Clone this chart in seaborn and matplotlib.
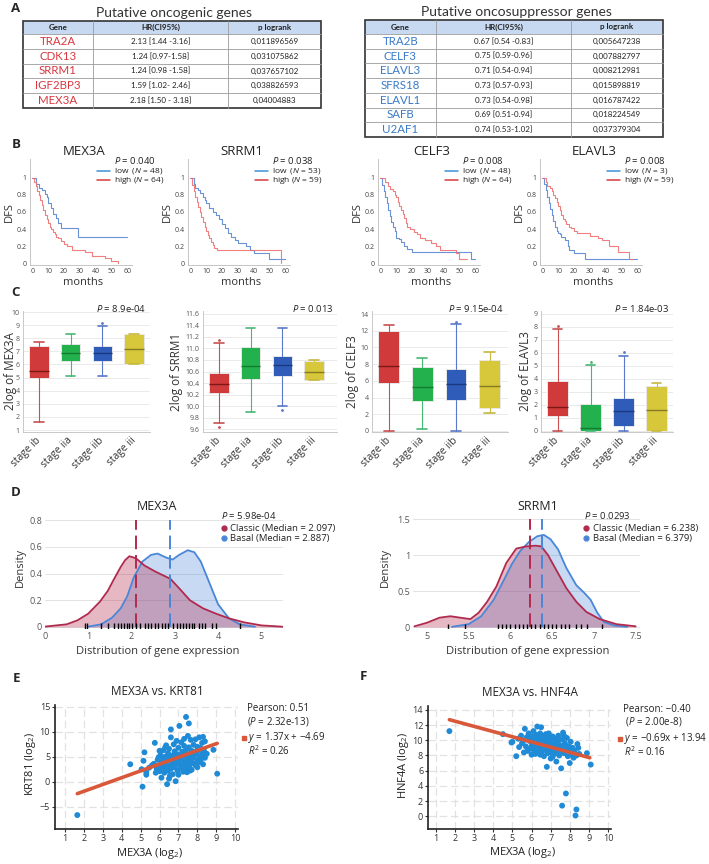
import matplotlib
matplotlib.use('Agg')
import matplotlib.pyplot as plt
import seaborn as sns
from matplotlib.patches import Rectangle

W, H = 709, 864

sns.set_theme(style='white')
plt.rcParams['font.family'] = ['Open Sans', 'DejaVu Sans']
plt.rcParams['mathtext.fontset'] = 'custom'
plt.rcParams['mathtext.it'] = 'Open Sans:italic'
plt.rcParams['mathtext.rm'] = 'Open Sans'

# ---------------- data: panel A tables ----------------
onco_genes = ['TRA2A', 'CDK13', 'SRRM1', 'IGF2BP3', 'MEX3A']
onco_hr = ['2.13 [1.44 -3.16]', '1.24 [0.97-1.58]', '1.24 [0.98 -1.58]', '1.59 [1.02- 2.46]', '2.18 [1.50 - 3.18]']
onco_p = ['0,011896569', '0,031075862', '0,037657102', '0,038826593', '0,04004883']
supp_genes = ['TRA2B', 'CELF3', 'ELAVL3', 'SFRS18', 'ELAVL1', 'SAFB', 'U2AF1']
supp_hr = ['0.67 [0.54 -0.83]', '0.75 [0.59-0.96]', '0.71 [0.54-0.94]', '0.73 [0.57-0.93]',
           '0.73 [0.54-0.98]', '0.69 [0.51-0.94]', '0.74 [0.53-1.02]']
supp_p = ['0,005647238', '0,007882797', '0,008212981', '0,015898819', '0,016787422', '0,018224549', '0,037379304']

# ---------------- data: panel B (Kaplan-Meier steps) ----------------
mex3a_low_t = [0, 2, 4, 6, 8, 9, 10, 12, 13, 15, 16, 18, 29, 60]
mex3a_low_s = [1, 0.93, 0.88, 0.86, 0.81, 0.77, 0.71, 0.65, 0.58, 0.53, 0.47, 0.41, 0.31, 0.31]
mex3a_high_t = [0, 1, 2, 3, 4, 5, 6, 7, 8, 9, 10, 11, 12, 13, 14, 15, 16, 18, 20, 22, 25, 33, 38, 46, 50, 54]
mex3a_high_s = [1, 0.95, 0.9, 0.85, 0.8, 0.74, 0.68, 0.62, 0.57, 0.52, 0.47, 0.43, 0.4, 0.37, 0.34, 0.31,
                0.29, 0.26, 0.23, 0.2, 0.16, 0.13, 0.09, 0.06, 0.03, 0.0]
srrm1_low_t = [0, 2, 3, 5, 6, 8, 9, 10, 12, 14, 16, 18, 20, 22, 24, 26, 28, 30, 35, 38, 40, 50, 60]
srrm1_low_s = [1, 0.93, 0.88, 0.86, 0.82, 0.78, 0.74, 0.7, 0.65, 0.6, 0.56, 0.52, 0.46, 0.41, 0.36,
               0.31, 0.27, 0.24, 0.2, 0.15, 0.12, 0.05, 0.05]
srrm1_high_t = [0, 1, 2, 3, 4, 5, 6, 7, 8, 9, 10, 11, 12, 13, 14, 15, 17, 57]
srrm1_high_s = [1, 0.92, 0.85, 0.78, 0.72, 0.66, 0.6, 0.54, 0.48, 0.43, 0.38, 0.33, 0.29, 0.25, 0.21,
                0.18, 0.15, 0.0]
celf3_low_t = [0, 1, 2, 3, 4, 5, 6, 7, 8, 9, 10, 12, 13, 15, 17, 20, 57, 60]
celf3_low_s = [1, 0.92, 0.85, 0.77, 0.7, 0.62, 0.55, 0.48, 0.43, 0.38, 0.3, 0.28, 0.25, 0.2, 0.17, 0.13, 0.05, 0.05]
celf3_high_t = [0, 3, 5, 6, 8, 9, 10, 11, 12, 13, 14, 15, 16, 17, 19, 21, 23, 25, 28, 32, 35, 38, 48, 50, 55]
celf3_high_s = [1, 0.95, 0.9, 0.87, 0.84, 0.8, 0.77, 0.72, 0.67, 0.62, 0.58, 0.53, 0.47, 0.43, 0.4,
                0.37, 0.34, 0.3, 0.27, 0.24, 0.2, 0.15, 0.12, 0.05, 0.05]
elavl3_low_t = [0, 1, 2, 3, 4, 5, 6, 7, 8, 9, 10, 11, 12, 14, 16, 17, 20, 27, 60]
elavl3_low_s = [1, 0.93, 0.86, 0.78, 0.7, 0.63, 0.56, 0.5, 0.43, 0.38, 0.36, 0.34, 0.31, 0.27, 0.2,
                0.15, 0.12, 0.05, 0.05]
elavl3_high_t = [0, 2, 3, 5, 6, 7, 8, 9, 10, 11, 12, 13, 14, 15, 17, 18, 20, 22, 30, 35, 38, 42, 48, 52, 55, 57]
elavl3_high_s = [1, 0.95, 0.9, 0.88, 0.85, 0.8, 0.76, 0.72, 0.67, 0.62, 0.57, 0.52, 0.49, 0.46, 0.43,
                 0.41, 0.38, 0.35, 0.32, 0.3, 0.27, 0.2, 0.13, 0.13, 0.05, 0.05]

# ---------------- data: panel C (box stats: low whisker, q1, median, q3, high whisker) ----------------
stages = ['stage ib', 'stage iia', 'stage iib', 'stage iii']
box_mex3a = [[1.6, 4.95, 5.5, 7.4, 7.75], [5.1, 6.3, 6.9, 7.55, 8.3], [5.1, 6.3, 6.85, 7.4, 8.95], [6.0, 6.0, 7.15, 8.3, 8.3]]
out_mex3a = [[], [], [9.2], []]
box_srrm1 = [[9.71, 10.22, 10.38, 10.58, 11.1], [9.9, 10.47, 10.7, 11.02, 11.36], [10.0, 10.52, 10.71, 10.87, 11.36], [10.45, 10.45, 10.6, 10.78, 10.8]]
out_srrm1 = [[11.15, 9.63], [], [9.93], []]
box_celf3 = [[0.0, 5.8, 7.8, 12.0, 12.7], [0.2, 3.6, 5.3, 7.6, 8.7], [0.0, 3.7, 5.65, 7.4, 12.8], [2.1, 2.8, 5.4, 8.5, 9.4]]
out_celf3 = [[], [], [13.1], []]
box_elavl3 = [[0.0, 1.15, 1.85, 3.85, 7.85], [0.0, 0.0, 0.25, 2.05, 5.05], [0.0, 0.35, 1.5, 2.5, 5.8], [0.0, 0.0, 1.6, 3.45, 3.7]]
out_elavl3 = [[8.1], [5.3], [6.05], []]

# ---------------- data: panel D (density curves) ----------------
mex3a_classic_x = [0.0, 0.5, 0.75, 1.0, 1.27, 1.45, 1.58, 1.75, 1.85, 1.95, 2.1, 2.3, 2.55, 2.9, 3.1, 3.35, 3.65, 3.95, 4.25, 4.6, 5.0, 5.5]
mex3a_classic_d = [0.003, 0.02, 0.05, 0.1, 0.19, 0.27, 0.35, 0.45, 0.5, 0.53, 0.515, 0.46, 0.415, 0.36, 0.29, 0.2, 0.14, 0.1, 0.065, 0.035, 0.012, 0.002]
mex3a_basal_x = [1.0, 1.3, 1.55, 1.75, 1.9, 2.05, 2.25, 2.45, 2.6, 2.8, 2.95, 3.1, 3.3, 3.45, 3.6, 3.8, 4.0, 4.25, 4.5, 4.85]
mex3a_basal_d = [0.003, 0.02, 0.07, 0.14, 0.23, 0.37, 0.49, 0.54, 0.55, 0.52, 0.505, 0.54, 0.575, 0.56, 0.49, 0.33, 0.17, 0.065, 0.02, 0.002]
mex3a_rug = [0.93, 0.98, 1.3, 1.45, 1.6, 1.68, 1.75, 1.82, 1.9, 1.95, 2.02, 2.1, 2.2, 2.3, 2.38, 2.45, 2.55, 2.62,
             2.7, 2.78, 2.85, 2.95, 3.05, 3.12, 3.2, 3.25, 3.32, 3.4, 3.45, 3.55, 3.62, 3.7, 3.85, 3.95, 4.5]
srrm1_classic_x = [4.85, 5.0, 5.15, 5.28, 5.4, 5.52, 5.62, 5.72, 5.83, 5.95, 6.07, 6.19, 6.3, 6.37, 6.45, 6.55, 6.67, 6.79, 6.91, 7.07, 7.27, 7.5]
srrm1_classic_d = [0.01, 0.06, 0.13, 0.15, 0.13, 0.11, 0.2, 0.35, 0.56, 0.89, 1.09, 1.12, 1.13, 1.12, 1.0, 0.79, 0.54, 0.35, 0.21, 0.11, 0.04, 0.01]
srrm1_basal_x = [5.3, 5.5, 5.65, 5.8, 5.92, 6.02, 6.12, 6.22, 6.32, 6.4, 6.48, 6.57, 6.67, 6.79, 6.88, 6.96, 7.04, 7.12, 7.25, 7.4]
srrm1_basal_d = [0.003, 0.04, 0.15, 0.38, 0.65, 0.88, 1.06, 1.18, 1.26, 1.28, 1.22, 1.08, 0.82, 0.58, 0.48, 0.38, 0.2, 0.07, 0.02, 0.003]
srrm1_rug = [5.25, 5.45, 5.85, 5.9, 5.95, 6.0, 6.05, 6.1, 6.15, 6.2, 6.25, 6.3, 6.35, 6.4, 6.45, 6.5, 6.55,
             6.6, 6.65, 6.7, 6.78, 6.85, 6.92, 7.1]

# ---------------- data: panels E / F (scatter) ----------------
e_mex3a = [1.65, 4.45, 5.1, 5.15, 5.2, 5.05, 5.3, 5.3, 5.45, 5.6,
           5.7, 5.75, 5.8, 5.85, 5.9, 5.95, 6.0, 6.0, 6.05, 6.1,
           6.1, 6.15, 6.2, 6.2, 6.25, 6.25, 6.3, 6.3, 6.35, 6.35,
           6.4, 6.4, 6.45, 6.45, 6.5, 6.5, 6.5, 6.55, 6.6, 6.6,
           6.6, 6.65, 6.7, 6.7, 6.75, 6.75, 6.8, 6.8, 6.85, 6.9,
           6.9, 6.95, 6.95, 7.0, 7.0, 7.05, 7.05, 7.1, 7.1, 7.15,
           7.15, 7.2, 7.2, 7.25, 7.25, 7.3, 7.3, 7.35, 7.35, 7.4,
           7.4, 7.4, 7.45, 7.5, 7.5, 7.5, 7.55, 7.55, 7.6, 7.6,
           7.65, 7.65, 7.7, 7.7, 7.75, 7.75, 7.8, 7.8, 7.85, 7.9,
           7.9, 7.95, 8.0, 8.0, 8.05, 8.05, 8.1, 8.1, 8.15, 8.2,
           8.25, 8.25, 8.3, 8.35, 8.4, 8.4, 8.5, 8.85, 9.05, 8.3,
           7.3, 6.3, 5.95, 6.55, 7.0, 7.45, 8.0, 6.85, 6.2, 6.6,
           7.25, 7.6, 8.15]
e_krt81 = [-6.7, 3.5, -1.0, 4.2, 5.9, 2.5, 1.9, 1.4, 2.8, 3.3,
           3.6, 7.8, 1.8, 2.6, 4.4, 3.0, 6.2, 2.1, 5.3, 3.8,
           0.8, 2.9, 6.3, 4.6, 3.4, 1.8, 5.0, 2.4, 7.3, 3.9,
           -0.5, 4.3, 2.2, 5.7, 0.6, 3.1, 6.6, 4.8, 8.9, 10.5,
           2.6, 3.6, 5.3, 1.5, 4.1, 7.5, 2.9, 6.1, 3.4, 4.6,
           8.2, 2.2, 5.5, 3.8, 6.8, 11.2, 4.3, 2.7, 5.0, 7.9,
           3.2, 6.0, 4.5, 2.0, 5.3, 3.7, 7.2, 4.9, 2.6, 13.0,
           6.4, 3.9, 5.6, 9.2, 4.2, 2.9, 11.7, 6.9, 5.1, 3.4,
           8.4, 4.6, 6.2, 2.4, 5.4, 3.8, 7.4, 4.9, 6.0, 8.5,
           3.3, 5.7, 4.3, 7.0, 6.3, 3.9, 8.9, 5.0, 6.8, 4.6,
           7.8, 5.5, 3.5, 6.2, 8.1, 4.8, 5.6, 6.4, 1.6, 9.0,
           8.6, 6.9, 4.9, 1.2, 1.4, 1.9, 2.9, 0.1, 3.0, 4.9,
           3.1, 2.2, 4.0]
e_fit_x = [1.65, 9.05]
e_fit_y = [-2.4, 7.7]

f_mex3a = [1.7, 4.5, 4.95, 5.0, 5.2, 5.3, 5.35, 5.45, 5.5, 5.6,
           5.65, 5.7, 5.75, 5.8, 5.85, 5.9, 5.95, 6.0, 6.0, 6.05,
           6.1, 6.1, 6.15, 6.2, 6.2, 6.25, 6.3, 6.3, 6.35, 6.4,
           6.4, 6.45, 6.5, 6.5, 6.55, 6.55, 6.6, 6.65, 6.65, 6.7,
           6.7, 6.75, 6.8, 6.8, 6.85, 6.85, 6.9, 6.95, 7.0, 7.0,
           7.05, 7.1, 7.1, 7.15, 7.2, 7.2, 7.25, 7.3, 7.3, 7.35,
           7.4, 7.4, 7.45, 7.5, 7.55, 7.55, 7.6, 7.6, 7.65, 7.65,
           7.7, 7.75, 7.8, 7.8, 7.85, 7.9, 7.95, 8.0, 8.0, 8.05,
           8.1, 8.15, 8.2, 8.25, 8.3, 8.35, 8.35, 8.4, 8.45, 8.5,
           8.9, 9.1, 6.0, 6.45, 6.9, 7.25, 7.7, 5.6, 6.35, 7.05]
f_hnf4a = [11.2, 10.8, 9.7, 9.8, 7.9, 10.2, 9.1, 10.6, 9.6, 10.0,
           11.5, 9.2, 10.4, 8.6, 10.9, 9.9, 8.9, 10.5, 8.1, 9.5,
           11.2, 8.8, 10.1, 9.3, 8.2, 10.7, 11.8, 9.7, 8.6, 10.3,
           9.0, 8.1, 11.7, 9.9, 8.5, 10.6, 9.3, 7.9, 10.1, 8.8,
           9.6, 10.8, 6.5, 9.1, 8.3, 10.3, 9.7, 8.7, 10.0, 7.6,
           9.3, 7.8, 10.5, 8.9, 9.6, 8.2, 10.2, 7.2, 9.0, 8.5,
           9.9, 10.6, 8.0, 9.3, 6.3, 8.7, 10.1, 1.4, 11.0, 9.0,
           8.3, 9.6, 3.0, 8.8, 10.3, 7.9, 9.2, 7.0, 8.5, 9.8,
           8.1, 9.0, 7.7, 8.6, 0.1, 0.9, 8.0, 9.5, 9.0, 8.2,
           8.3, 6.8, 9.2, 10.9, 10.9, 9.4, 10.6, 8.4, 9.4, 8.4]
f_fit_x = [1.7, 9.05]
f_fit_y = [12.7, 7.7]

# colours
KM_BLUE, KM_RED = '#5a86d4', '#ef7272'
LEG_BLUE, LEG_RED = '#3f8fd8', '#d83a3a'
BOX_FACE = ['#d13a3a', '#22b14c', '#2f5cb8', '#d7c73a']
BOX_WHISK = ['#c85050', '#45b874', '#5a78c8', '#c8b840']
BOX_MED = ['#7d1818', '#137a32', '#1c3a80', '#857a22']
CLASSIC, BASAL = '#b02a4e', '#4a86d8'
DOT, FIT = '#1f8ad6', '#d9583a'

fig = plt.figure(figsize=(W / 100, H / 100), dpi=100)
fig.patch.set_facecolor('white')


def add_ax(x, y, w, h):
    # pixel box (top-left origin) -> figure fraction
    ax = fig.add_axes([x / W, 1 - (y + h) / H, w / W, h / H])
    ax.set_facecolor('none')
    return ax


bg = add_ax(0, 0, W, H)
bg.set_xlim(0, W)
bg.set_ylim(H, 0)
bg.axis('off')

for letter, lx, ly in [('A', 16, 8), ('B', 16, 145), ('C', 16, 292), ('D', 16, 492), ('E', 17, 678), ('F', 363, 677)]:
    bg.text(lx, ly, letter, fontsize=9.5, fontweight='bold', ha='center', va='center')


# ---------------------------------------------------------
# Panel A: tables
# ---------------------------------------------------------
def draw_table(xe, y_top, y_head, row_h, genes, hrs, ps, gcol, title):
    n = len(genes)
    y_bot = y_head + n * row_h
    bg.add_patch(Rectangle((xe[0], y_top), xe[-1] - xe[0], y_head - y_top, facecolor='#c6d9f1', edgecolor='none'))
    for xx in xe[1:-1]:
        bg.plot([xx, xx], [y_top, y_bot], color='#9a9a9a', lw=0.6)
    for i in range(n):
        yy = y_head + i * row_h
        bg.plot([xe[0], xe[-1]], [yy, yy], color='#9a9a9a', lw=0.6)
    bg.add_patch(Rectangle((xe[0], y_top), xe[-1] - xe[0], y_bot - y_top, fill=False, edgecolor='#333333', lw=1.2))
    cx = [(xe[i] + xe[i + 1]) / 2 for i in range(3)]
    for c, h in zip(cx, ['Gene', 'HR(CI95%)', 'p logrank']):
        bg.text(c, (y_top + y_head) / 2, h, fontsize=5.8, fontweight='bold', ha='center', va='center',
                family='Lato', color='#222222')
    for i in range(n):
        yc = y_head + (i + 0.5) * row_h
        bg.text(cx[0], yc, genes[i], fontsize=8.3, ha='center', va='center', family='Lato', color=gcol)
        bg.text(cx[1], yc, hrs[i], fontsize=5.8, ha='center', va='center', family='Lato', color='#222222')
        bg.text(cx[2], yc, ps[i], fontsize=5.8, ha='center', va='center', family='Lato', color='#222222')
    bg.text((xe[0] + xe[-1]) / 2 + 2, y_top - 8, title, fontsize=10, ha='center', va='center', family='Lato',
            color='#333333')


draw_table([23, 93, 228, 321], 21, 34, 14.8, onco_genes, onco_hr, onco_p, '#d9363e', 'Putative oncogenic genes')
draw_table([365, 436, 571, 663], 20, 34, 14.7, supp_genes, supp_hr, supp_p, '#3a7ac8', 'Putative oncosuppressor genes')


# ---------------------------------------------------------
# Panel B: Kaplan-Meier curves
# ---------------------------------------------------------
def km_plot(x0, gene, pval, n_low, n_high, t_lo, s_lo, t_hi, s_hi):
    ax = add_ax(x0, 159, 102, 106)
    sns.lineplot(x=t_lo, y=s_lo, ax=ax, drawstyle='steps-post', color=KM_BLUE, lw=0.8,
                 estimator=None, sort=False, alpha=0.9)
    sns.lineplot(x=t_hi, y=s_hi, ax=ax, drawstyle='steps-post', color=KM_RED, lw=0.8,
                 estimator=None, sort=False, alpha=0.9)
    ax.set_xlim(-1.5, 63)
    ax.set_ylim(-0.02, 1.22)
    ax.set_xticks(range(0, 61, 10))
    ax.set_yticks([0, 0.2, 0.4, 0.6, 0.8, 1])
    ax.set_yticklabels(['0', '0.2', '0.4', '0.6', '0.8', '1'])
    for s in ['top', 'right']:
        ax.spines[s].set_visible(False)
    for s in ['left', 'bottom']:
        ax.spines[s].set_color('#bbbbbb')
        ax.spines[s].set_linewidth(0.6)
    ax.tick_params(length=1.5, width=0.5, colors='#aaaaaa', labelcolor='#444444', labelsize=5, pad=1)
    ax.set_xlabel('')
    ax.set_ylabel('')
    ax.text(-0.2, 0.5, 'DFS', rotation=90, transform=ax.transAxes, ha='center', va='center', fontsize=8,
            color='#333333')
    ax.text(0.52, -0.165, 'months', transform=ax.transAxes, ha='center', va='center', fontsize=8, color='#333333')
    ax.text(0.53, 1.07, gene, transform=ax.transAxes, ha='center', va='center', fontsize=9.5, color='#222222')
    ax.text(0.82, 0.99, r'$\it{P}$ = ' + pval, transform=ax.transAxes, ha='left', va='center', fontsize=6.8,
            color='#222222')
    for fy, col, lab in [(0.89, LEG_BLUE, r'low  ($\it{N}$ = %d)' % n_low), (0.80, LEG_RED, r'high ($\it{N}$ = %d)' % n_high)]:
        ax.plot([0.66, 0.78], [fy, fy], color=col, lw=1.1, transform=ax.transAxes, clip_on=False)
        ax.text(0.82, fy, lab, transform=ax.transAxes, ha='left', va='center', fontsize=6, color='#222222')


km_plot(30, 'MEX3A', '0.040', 48, 64, mex3a_low_t, mex3a_low_s, mex3a_high_t, mex3a_high_s)
km_plot(188, 'SRRM1', '0.038', 53, 59, srrm1_low_t, srrm1_low_s, srrm1_high_t, srrm1_high_s)
km_plot(378, 'CELF3', '0.008', 48, 64, celf3_low_t, celf3_low_s, celf3_high_t, celf3_high_s)
km_plot(540, 'ELAVL3', '0.008', 3, 59, elavl3_low_t, elavl3_low_s, elavl3_high_t, elavl3_high_s)


# ---------------------------------------------------------
# Panel C: expression by stage (box plots)
# ---------------------------------------------------------
def box_plot(rect, xlim, ylim, yticks, ytlab, gene, ylab_x, pval, vals, outs):
    ax = add_ax(*rect)
    stats = []
    for v, o in zip(vals, outs):
        stats.append(dict(whislo=v[0], q1=v[1], med=v[2], q3=v[3], whishi=v[4], fliers=o))
    art = ax.bxp(stats, positions=range(4), widths=0.62, patch_artist=True, showfliers=True, capwidths=0.3)
    for i in range(4):
        art['boxes'][i].set(facecolor=BOX_FACE[i], edgecolor='#e8e8e8', lw=0.7)
        art['medians'][i].set(color=BOX_MED[i], lw=1.0)
        for k in (2 * i, 2 * i + 1):
            art['whiskers'][k].set(color=BOX_WHISK[i], lw=0.8)
            art['caps'][k].set(color=BOX_WHISK[i], lw=1.2)
        art['fliers'][i].set(marker='.', markersize=2, markerfacecolor=BOX_WHISK[i], markeredgecolor=BOX_WHISK[i])
    ax.set_xlim(*xlim)
    ax.set_ylim(*ylim)
    ax.set_yticks(yticks)
    ax.set_yticklabels(ytlab)
    ax.set_xticks(range(4))
    ax.set_xticklabels(stages, rotation=45, ha='right', va='center', rotation_mode='anchor')
    ax.yaxis.grid(True, color='#e6e6e6', lw=0.6)
    ax.set_axisbelow(True)
    for s in ['top', 'right']:
        ax.spines[s].set_visible(False)
    for s in ['left', 'bottom']:
        ax.spines[s].set_color('#c0c0c0')
        ax.spines[s].set_linewidth(0.6)
    ax.tick_params(axis='y', length=1.5, width=0.5, colors='#bbbbbb', labelcolor='#555555', labelsize=5, pad=1)
    ax.tick_params(axis='x', length=0, labelcolor='#333333', labelsize=7.3, pad=5)
    ax.text(ylab_x, 0.5, '2log of ' + gene, rotation=90, transform=ax.transAxes, ha='center', va='center',
            fontsize=8.5, color='#333333')
    ax.text(0.97, 1.02, r'$\it{P}$ = ' + pval, transform=ax.transAxes, ha='right', va='center', fontsize=6.8,
            color='#222222')


box_plot((23, 311, 127, 121), (-0.5, 3.5), (0.85, 10.08), list(range(1, 11)), [str(v) for v in range(1, 11)],
         'MEX3A', -0.10, '8.9e-04', box_mex3a, out_mex3a)
srrm1_ticks = [9.6, 9.8, 10.0, 10.2, 10.4, 10.6, 10.8, 11.0, 11.2, 11.4, 11.6]
box_plot((203, 311, 134, 121), (-0.5, 3.72), (9.55, 11.65), srrm1_ticks, ['%.1f' % v for v in srrm1_ticks],
         'SRRM1', -0.20, '0.013', box_srrm1, out_srrm1)
box_plot((372, 311, 136, 121), (-0.5, 3.55), (-0.12, 14.36), list(range(0, 15, 2)), [str(v) for v in range(0, 15, 2)],
         'CELF3', -0.14, '9.15e-04', box_celf3, out_celf3)
box_plot((541, 311, 132, 121), (-0.5, 3.5), (-0.08, 9.23), list(range(0, 10)), [str(v) for v in range(0, 10)],
         'ELAVL3', -0.12, '1.84e-03', box_elavl3, out_elavl3)


# ---------------------------------------------------------
# Panel D: density by subtype
# ---------------------------------------------------------
def density_plot(rect, xlim, ylim, xticks, xtlab, yticks, ytlab, gene, title_x, pval, leg_x, med_c, med_b, top,
                 xc, dc, xb, db, rug, xlab_x, ylab_x):
    ax = add_ax(*rect)
    ax.fill_between(xb, db, 0, color=BASAL, alpha=0.3, lw=0)
    sns.lineplot(x=xb, y=db, ax=ax, color=BASAL, lw=1.3, estimator=None, sort=False)
    ax.fill_between(xc, dc, 0, color=CLASSIC, alpha=0.33, lw=0)
    sns.lineplot(x=xc, y=dc, ax=ax, color=CLASSIC, lw=1.3, estimator=None, sort=False)
    ax.vlines([med_c], 0, top, colors=CLASSIC, lw=1.4, linestyles=(0, (7, 3)))
    ax.vlines([med_b], 0, top, colors=BASAL, lw=1.4, linestyles=(0, (7, 3)))
    sns.rugplot(x=rug, ax=ax, height=0.05, color='black', lw=0.8)
    ax.set_xlim(*xlim)
    ax.set_ylim(*ylim)
    ax.set_xticks(xticks)
    ax.set_xticklabels(xtlab)
    ax.set_yticks(yticks)
    ax.set_yticklabels(ytlab)
    ax.yaxis.grid(True, color='#e3e3e3', lw=0.7)
    ax.set_axisbelow(True)
    for s in ax.spines.values():
        s.set_visible(False)
    ax.tick_params(length=0, labelcolor='#555555', labelsize=6.5, pad=2)
    ax.set_xlabel('')
    ax.set_ylabel('')
    ax.text(title_x, 1.10, gene, transform=ax.transAxes, ha='center', va='center', fontsize=9, color='#222222')
    ax.text(leg_x, 1.02, r'$\it{P}$ = ' + pval, transform=ax.transAxes, ha='left', va='center', fontsize=6.8,
            color='#222222')
    for fy, col, lab in [(0.905, CLASSIC, 'Classic (Median = %.3f)' % med_c), (0.815, BASAL, 'Basal (Median = %.3f)' % med_b)]:
        ax.plot([leg_x + 0.01], [fy], marker='o', markersize=3.5, color=col, transform=ax.transAxes, clip_on=False)
        ax.text(leg_x + 0.037, fy, lab, transform=ax.transAxes, ha='left', va='center', fontsize=6.8, color='#222222')
    ax.text(xlab_x, -0.2, 'Distribution of gene expression', transform=ax.transAxes, ha='center', va='center',
            fontsize=8, color='#333333')
    ax.text(ylab_x, 0.55, 'Density', rotation=90, transform=ax.transAxes, ha='center', va='center', fontsize=8,
            color='#333333')


density_plot((45, 517.5, 238, 111.5), (0, 5.5), (-0.015, 0.82), [0, 1, 2, 3, 4, 5], ['0', '1', '2', '3', '4', '5'],
             [0, 0.2, 0.4, 0.6, 0.8], ['0', '0.2', '0.4', '0.6', '0.8'], 'MEX3A', 0.47, '5.98e-04', 0.74,
             2.097, 2.887, 0.8, mex3a_classic_x, mex3a_classic_d, mex3a_basal_x, mex3a_basal_d, mex3a_rug, 0.475, -0.105)
density_plot((412.8, 517.6, 227, 111.6), (4.83, 7.55), (-0.03, 1.52), [5, 5.5, 6, 6.5, 7, 7.5],
             ['5', '5.5', '6', '6.5', '7', '7.5'], [0, 0.5, 1, 1.5], ['0', '0.5', '1', '1.5'], 'SRRM1', 0.55,
             '0.0293', 0.755, 6.238, 6.379, 1.5, srrm1_classic_x, srrm1_classic_d, srrm1_basal_x, srrm1_basal_d,
             srrm1_rug, 0.507, -0.122)


# ---------------------------------------------------------
# Panels E / F: correlation scatter
# ---------------------------------------------------------
def scatter_plot(rect, xlim, ylim, yticks, xs, ys, fx, fy, title, ylab, pear, ptxt, eq, r2, ann_x):
    ax = add_ax(*rect)
    sns.scatterplot(x=xs, y=ys, ax=ax, color=DOT, s=18, edgecolor='none', linewidth=0, zorder=3)
    sns.lineplot(x=fx, y=fy, ax=ax, color=FIT, lw=2.6, estimator=None, sort=False, zorder=4)
    ax.set_xlim(*xlim)
    ax.set_ylim(*ylim)
    ax.set_xticks(range(1, 11))
    ax.set_yticks(yticks)
    ax.grid(True, color='#e2e2e2', lw=0.9, ls=(0, (6, 3)))
    ax.set_axisbelow(True)
    for s in ['top', 'right']:
        ax.spines[s].set_visible(False)
    for s in ['left', 'bottom']:
        ax.spines[s].set_color('#222222')
        ax.spines[s].set_linewidth(1.2)
    ax.tick_params(length=2.5, width=0.8, colors='#333333', labelsize=6.5, pad=1, direction='out',
                   bottom=True, left=True)
    ax.set_xlabel('')
    ax.set_ylabel('')
    ax.text(0.557, 1.11, title, transform=ax.transAxes, ha='center', va='center', fontsize=8.5, color='#222222')
    ax.text(0.52, -0.195, r'MEX3A (log$_2$)', transform=ax.transAxes, ha='center', va='center', fontsize=8,
            color='#222222')
    ax.text(-0.135, 0.52, ylab, rotation=90, transform=ax.transAxes, ha='center', va='center', fontsize=8,
            color='#222222')
    ax.text(ann_x, 0.975, pear, transform=ax.transAxes, ha='left', va='center', fontsize=7, color='#222222')
    ax.text(ann_x, 0.87, ptxt, transform=ax.transAxes, ha='left', va='center', fontsize=7, color='#222222')
    ax.plot([ann_x - 0.018], [0.735], marker='s', markersize=2.6, color=FIT, transform=ax.transAxes, clip_on=False)
    ax.text(ann_x + 0.005, 0.735, eq, transform=ax.transAxes, ha='left', va='center', fontsize=7, color='#222222')
    ax.text(ann_x + 0.005, 0.625, r2, transform=ax.transAxes, ha='left', va='center', fontsize=7, color='#222222')


scatter_plot((55, 705, 183, 124), (0.47, 10.15), (-9.5, 15.4), [-5, 0, 5, 10, 15], e_mex3a, e_krt81,
             e_fit_x, e_fit_y, 'MEX3A vs. KRT81', r'KRT81 (log$_2$)', 'Pearson: 0.51', r'($\it{P}$ = 2.32e-13)',
             r'$\it{y}$ = 1.37x + −4.69', r'$\it{R}^2$ = 0.26', 1.05)
scatter_plot((428, 706, 183, 123), (0.58, 10.16), (-1.67, 14.5), [0, 2, 4, 6, 8, 10, 12, 14], f_mex3a, f_hnf4a,
             f_fit_x, f_fit_y, 'MEX3A vs. HNF4A', r'HNF4A (log$_2$)', 'Pearson: −0.40', r' ($\it{P}$ = 2.00e-8)',
             r'$\it{y}$ = −0.69x + 13.94', r'$\it{R}^2$ = 0.16', 1.066)

plt.savefig('out.png', dpi=100)
print('saved out.png')
